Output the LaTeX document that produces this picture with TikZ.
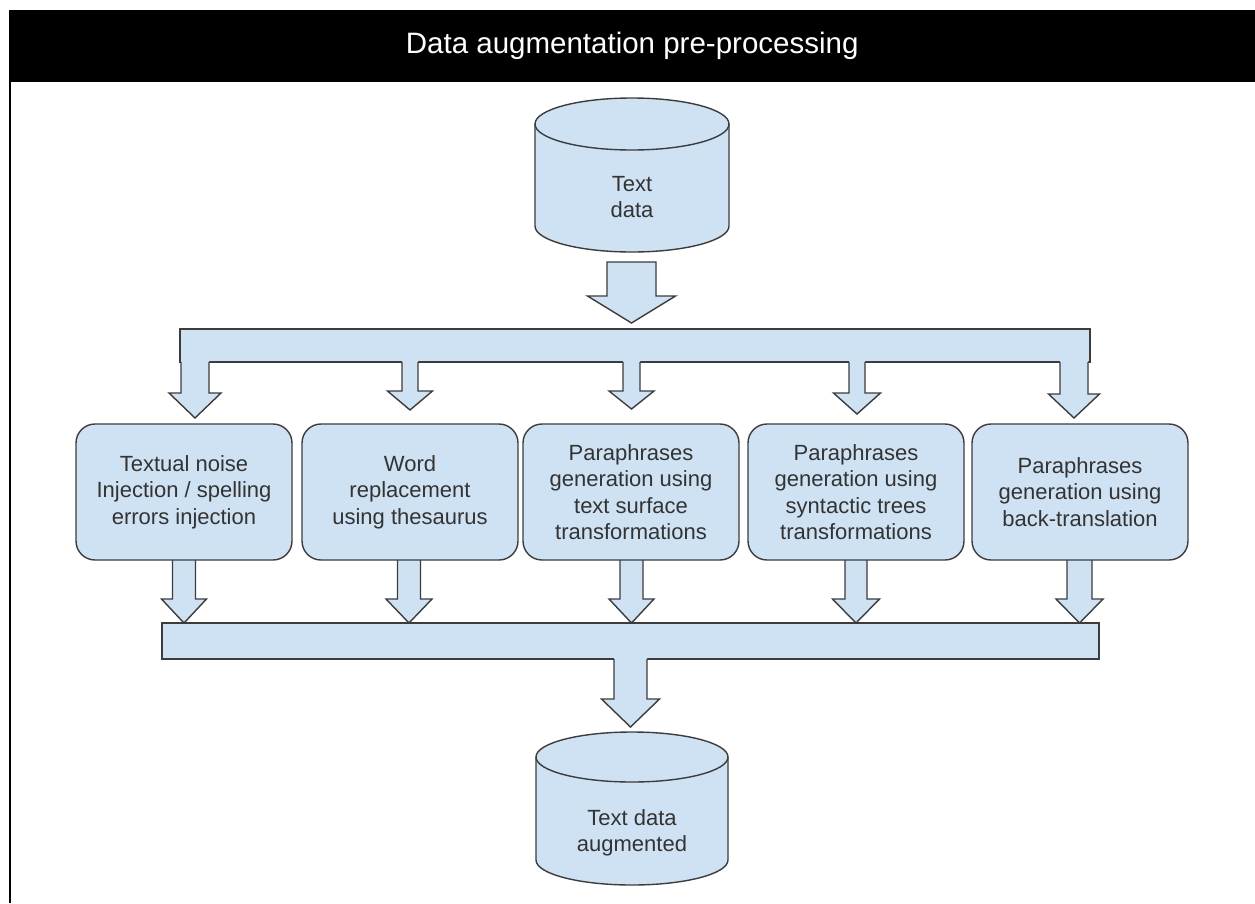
\documentclass[tikz,border=0pt]{standalone}
\usepackage{fontspec}
\setmainfont{Liberation Sans}
\definecolor{fillblue}{HTML}{CFE2F3}
\definecolor{edgegray}{HTML}{3C3C3C}
\definecolor{txtgray}{HTML}{333333}
% block arrow outline: cx, top, headstart, tip, shafthalf, headhalf
\newcommand\BAPath[6]{({#1-#5},{#2}) -- ({#1-#5},{#3}) -- ({#1-#6},{#3}) -- ({#1},{#4}) -- ({#1+#6},{#3}) -- ({#1+#5},{#3}) -- ({#1+#5},{#2})}
\newcommand\ArrowOpen[6]{\fill[fillblue] \BAPath{#1}{#2-1.3}{#3}{#4}{#5}{#6} -- cycle;
  \draw[arrline] \BAPath{#1}{#2}{#3}{#4}{#5}{#6};}
\newcommand\ArrowClosed[6]{\filldraw[shapeline] \BAPath{#1}{#2}{#3}{#4}{#5}{#6} -- cycle;}
% cylinder: cx, top, bottom, rx, ry
\newcommand\DrawCyl[5]{%
  \filldraw[shapeline] ({#1-#4},{#2+#5}) -- ({#1-#4},{#3-#5})
    arc[start angle=180,end angle=360,x radius=#4pt,y radius=#5pt]
    -- ({#1+#4},{#2+#5})
    arc[start angle=0,end angle=180,x radius=#4pt,y radius=#5pt] -- cycle;
  \draw[arrline] ({#1-#4},{#2+#5}) arc[start angle=180,end angle=360,x radius=#4pt,y radius=#5pt];}
\begin{document}
\begin{tikzpicture}[x=1pt,y=-1pt,
  shapeline/.style={draw=edgegray, line width=1.4pt, fill=fillblue, line join=miter},
  arrline/.style={draw=edgegray, line width=1.4pt, line join=miter},
  procbox/.style={shapeline, rounded corners=19pt, minimum width=216pt, minimum height=136pt,
    inner sep=0pt, align=center, text=txtgray, font=\fontsize{22}{26.5}\selectfont},
  barbox/.style={shapeline, inner sep=0pt},
  cyltext/.style={align=center, text=txtgray, font=\fontsize{22}{26.5}\selectfont},
  headerbar/.style={fill=black, inner sep=0pt, text=white, font=\fontsize{29.5}{33}\selectfont}
]
\useasboundingbox (0,0) rectangle (1255,903);
\fill[white] (0,0) rectangle (1255,903);

% header and frame
\node[headerbar, minimum width=1246pt, minimum height=72pt, anchor=north west] (header) at (9,10) {Data augmentation pre-processing};
\coordinate (frameend) at (10,903);
\draw[line width=2.5pt] (header.south west -| frameend) -- (frameend);

% source cylinder
\DrawCyl{632}{98}{252}{97}{26}
\node[cyltext] (src) at (632,197) {Text\\data};

% arrow to top bar
\ArrowClosed{631.5}{262}{296}{323}{24.5}{44}

% top bar
\node[barbox, minimum width=910pt, minimum height=33pt] (topbar) at (635,345.5) {};

% arrows from top bar to boxes
\ArrowOpen{195}{362}{393}{418}{14}{26}
\ArrowOpen{410}{362}{391}{410}{8}{22.5}
\ArrowOpen{631.5}{362}{391}{409}{8.5}{22.5}
\ArrowOpen{857}{362}{393}{414}{8}{23.5}
\ArrowOpen{1074}{362}{394}{418}{14}{25.5}

% bottom arrows from boxes
\ArrowOpen{184}{560}{599}{623}{11.5}{22.5}
\ArrowOpen{409}{560}{599}{623}{11.5}{23}
\ArrowOpen{631.5}{560}{599}{623}{11.5}{22.5}
\ArrowOpen{856}{560}{599}{623}{11}{23.5}
\ArrowOpen{1079.5}{560}{599}{623}{12.5}{23.5}

% process boxes
\node[procbox] (noise) at (184,492) {Textual noise\\Injection / spelling\\errors injection};
\node[procbox] (word) at (410,492) {Word\\replacement\\using thesaurus};
\node[procbox] (surface) at (631,492) {Paraphrases\\generation using\\text surface\\transformations};
\node[procbox] (syntax) at (856,492) {Paraphrases\\generation using\\syntactic trees\\transformations};
\node[procbox] (back) at (1080,492) {Paraphrases\\generation using\\back-translation};

% bottom bar
\node[barbox, minimum width=937pt, minimum height=36pt] (botbar) at (630.5,641) {};

% arrow to output cylinder
\ArrowOpen{630.5}{659}{699}{727}{16.5}{29}

% output cylinder
\DrawCyl{632}{732}{885}{96}{25}
\node[cyltext] (dst) at (632,833) {Text data\\augmented};
\end{tikzpicture}
\end{document}
